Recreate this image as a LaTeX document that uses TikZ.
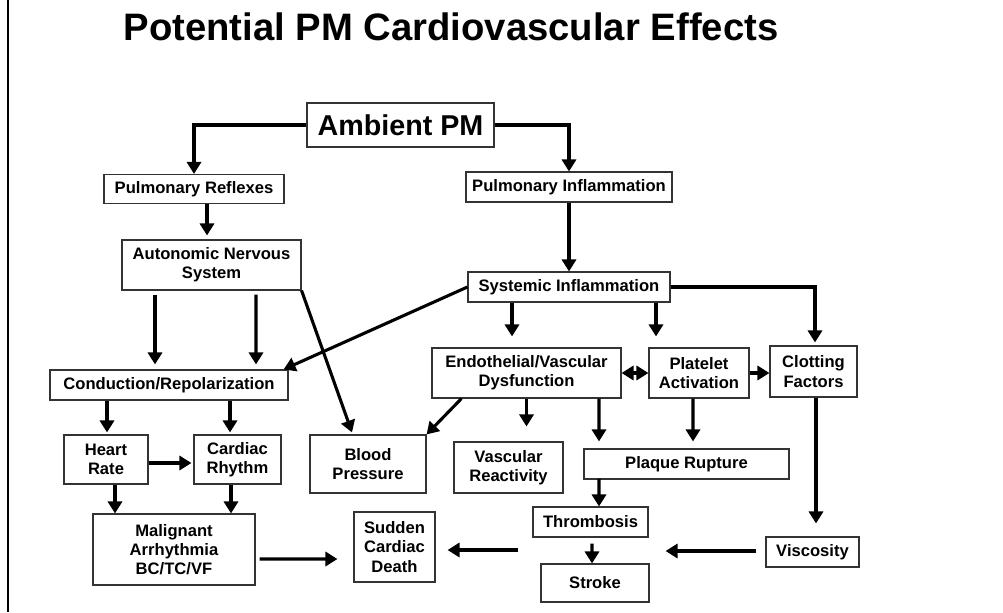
\documentclass[tikz,border=0pt]{standalone}
\usepackage{fontspec}
\setmainfont{Liberation Sans}
\usetikzlibrary{arrows.meta,calc}
\tikzset{boxsize/.style 2 args = {minimum width=#1*0.025cm, minimum height=#2*0.025cm}}

\begin{document}
\begin{tikzpicture}[x=0.025cm, y=-0.025cm,
                    arrow/.style = {line width=2.2pt, ->, >={Triangle[length=8.5pt,width=10pt]}},
                    box/.style = {draw=black!80, line width=0.8pt, inner sep=0pt, align=center,
                                  font=\bfseries\fontsize{11.8}{13.6}\selectfont}]
                    \useasboundingbox (0,0) rectangle (1003,612);
                    \draw[line width=1.6pt] (8,0) -- (8,612);

                    \node[anchor=base, font=\bfseries\fontsize{27.2}{32}\selectfont] (title) at (451,40) {Potential PM Cardiovascular Effects};

                    \node[box, boxsize={187}{44}, font=\bfseries\fontsize{20.4}{24}\selectfont] (ambient) at (400.5,125) {Ambient PM};
                    \node[box, boxsize={180}{29}] (reflex) at (194,189) {Pulmonary Reflexes};
                    \node[box, boxsize={206}{30}] (pulminf) at (569,187) {Pulmonary Inflammation};
                    \node[box, boxsize={179}{50}] (ans) at (211.5,265) {Autonomic Nervous\\System};
                    \node[box, boxsize={202}{30}] (sysinf) at (569,287) {Systemic Inflammation};
                    \node[box, boxsize={238}{30}] (conduct) at (169,385) {Conduction/Repolarization};
                    \node[box, boxsize={189}{50}] (endo) at (526.5,373) {Endothelial/Vascular\\Dysfunction};
                    \node[box, boxsize={100}{50}] (platelet) at (699,373) {Platelet\\Activation};
                    \node[box, boxsize={87}{51}] (clot) at (813.5,371.5) {Clotting\\Factors};
                    \node[box, boxsize={84}{49}] (heart) at (106,459.5) {Heart\\Rate};
                    \node[box, boxsize={87}{49}] (rhythm) at (237.5,459.5) {Cardiac\\Rhythm};
                    \node[box, boxsize={116}{58}] (bp) at (368,464) {Blood\\Pressure};
                    \node[box, boxsize={109}{51}] (vasreact) at (508.5,467.5) {Vascular\\Reactivity};
                    \node[box, boxsize={205}{30}] (plaque) at (686.5,464) {Plaque Rupture};
                    \node[box, boxsize={162}{71}] (malig) at (174,549.5) {Malignant\\Arrhythmia\\BC/TC/VF};
                    \node[box, boxsize={81}{70}] (sudden) at (394.5,547) {Sudden\\Cardiac\\Death};
                    \node[box, boxsize={115}{30}] (thromb) at (590.5,522) {Thrombosis};
                    \node[box, boxsize={93}{30}] (viscos) at (812.5,552) {Viscosity};
                    \node[box, boxsize={108}{38}] (stroke) at (595,583) {Stroke};

                    \draw[arrow] (ambient.west) -| (reflex.north);
                    \draw[arrow] (ambient.east) -| (pulminf.north);
                    \draw[arrow] ($(reflex.south)+(13,0)$) -- ($(ans.north)+(-4.5,-4)$);
                    \draw[arrow] (pulminf) -- (sysinf);

                    \draw[arrow] ($(ans.south)+(-56.5,4)$) -- ($(conduct.north)+(-14,-5)$);
                    \draw[arrow] ($(ans.south)+(44.5,4)$) -- ($(conduct.north)+(87,-5)$);
                    \draw[arrow] (ans.south east) -- ($(bp.north)+(-16,-2)$);
                    \draw[arrow] (sysinf.west) -- ($(conduct.north east)+(-5,0)$);

                    \draw[arrow] ($(sysinf.south)+(-57,0)$) -- ($(endo.north)+(-14.5,-11)$);
                    \draw[arrow] ($(sysinf.south)+(87,0)$) -- ($(platelet.north)+(-43,-11)$);
                    \draw[arrow] (sysinf.east) -| ($(clot.north)+(1.5,-3)$);
                    \draw[arrow, <->] (endo) -- (platelet);
                    \draw[arrow] (platelet.east) -- (platelet.east -| clot.west);

                    \draw[arrow] ($(endo.south west)+(30,0)$) -- (bp.north east);
                    \draw[arrow] (endo.south) -- ($(endo.south |- vasreact.north)+(0,-15)$);
                    \draw[arrow] ($(endo.south)+(72.5,0)$) -- ($(plaque.north)+(-87.5,-7)$);
                    \draw[arrow] ($(platelet.south)+(-6,0)$) -- ($(plaque.north)+(6.5,-7)$);
                    \draw[arrow] ($(clot.south)+(2.5,0)$) -- ($(viscos.north)+(3.5,-13)$);

                    \draw[arrow] ($(conduct.south)+(-62,0)$) -- ($(heart.north)+(1,-2)$);
                    \draw[arrow] ($(conduct.south)+(61,0)$) -- ($(rhythm.north)+(-7.5,-2)$);
                    \draw[arrow] ($(heart.east)+(0,3.5)$) -- ($(rhythm.west)+(-2,3.5)$);
                    \draw[arrow] ($(heart.south)+(9,0)$) -- ($(malig.north)+(-59,0)$);
                    \draw[arrow] ($(rhythm.south)+(-6.5,0)$) -- ($(malig.north)+(57,0)$);
                    \draw[arrow] ($(malig.east)+(4,9.5)$) -- ($(sudden.west)+(-16,12)$);

                    \draw[arrow] ($(plaque.south)+(-87.5,-1)$) -- ($(thromb.north)+(8.5,0)$);
                    \draw[arrow] ($(thromb.south)+(1.5,6)$) -- ($(stroke.north)+(-3,0)$);
                    \draw[arrow] ($(stroke.west |- sudden.east)+(-22,3)$) -- ($(sudden.east)+(12,3)$);
                    \draw[arrow] ($(viscos.west)+(-9,-1)$) -- ($(viscos.west -| stroke.east)+(16,-1)$);
                \end{tikzpicture}
\end{document}
